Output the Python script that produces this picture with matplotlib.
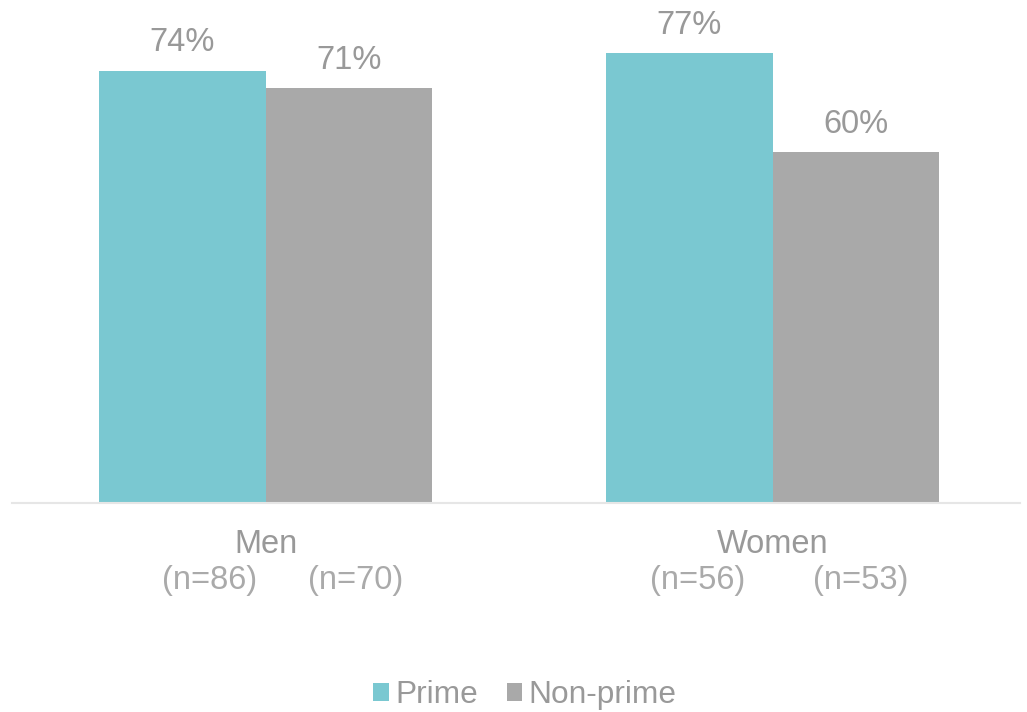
import matplotlib.pyplot as plt
import numpy as np
from matplotlib.transforms import blended_transform_factory

plt.rcParams['font.family'] = ['Liberation Sans', 'DejaVu Sans']

groups = ['Men', 'Women']
series = ['Prime', 'Non-prime']
prime = [74, 77]
nonprime = [71, 60]
n_prime = ['(n=86)', '(n=56)']
n_nonprime = ['(n=70)', '(n=53)']

teal = '#7AC8D1'
grey = '#A9A9A9'
txt = '#999999'
fs = 23.5

fig = plt.figure(figsize=(10.27, 7.12), dpi=100)
ax = fig.add_axes([12 / 1027, 0.2935, 1008 / 1027, 0.7065])

x = np.arange(len(groups))
w = 0.328
b1 = ax.bar(x - w / 2, prime, w, color=teal, label=series[0])
b2 = ax.bar(x + w / 2, nonprime, w, color=grey, label=series[1])

for bars, vals in [(b1, prime), (b2, nonprime)]:
    for r, v in zip(bars, vals):
        ax.annotate(f'{v}%', (r.get_x() + r.get_width() / 2, v), xytext=(0, 9),
                    textcoords='offset points', ha='center', va='bottom',
                    fontsize=fs, color=txt)

ax.set_xlim(-0.5, 1.488)
ax.set_ylim(0, 86.1)
ax.set_yticks([])
ax.set_xticks(x)
ax.set_xticklabels(groups, fontsize=fs, color=txt)
ax.tick_params(axis='x', length=0, pad=19)
for s in ['top', 'right', 'left']:
    ax.spines[s].set_visible(False)
ax.spines['bottom'].set_color('#E6E6E6')
ax.spines['bottom'].set_linewidth(1.5)

# sample size labels under each group
tr = blended_transform_factory(ax.transData, fig.transFigure)
n_x_prime = [-0.110, 0.852]
n_x_non = [0.178, 1.174]
for xi, lab in zip(n_x_prime, n_prime):
    ax.text(xi, 1 - 580 / 712, lab, transform=tr, ha='center', va='center',
            fontsize=fs, color='#AAAAAA')
for xi, lab in zip(n_x_non, n_nonprime):
    ax.text(xi, 1 - 580 / 712, lab, transform=tr, ha='center', va='center',
            fontsize=fs, color='#AAAAAA')

fig.legend(loc='center', bbox_to_anchor=(525 / 1027, 1 - 695 / 712), ncol=2,
           frameon=False, fontsize=22.8, labelcolor=txt, handlelength=0.5,
           handleheight=0.5, handletextpad=0.2, columnspacing=0.9)

fig.savefig('out.png', dpi=100)
